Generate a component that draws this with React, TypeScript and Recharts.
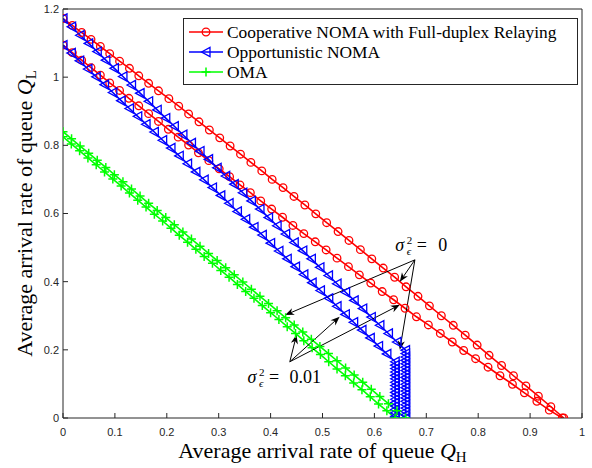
import React from 'react';
import { LineChart, Line, XAxis, YAxis, Legend, Label, ReferenceLine, ReferenceDot } from 'recharts';

const RED = '#ff0000';
const BLUE = '#0000ff';
const GREEN = '#00ff00';
const AXIS = '#262626';
const SERIF = '"Liberation Serif", "Times New Roman", serif';
const SANS = '"Liberation Sans", Arial, sans-serif';

const SERIES_COOP = 'Cooperative NOMA with Full-duplex Relaying';
const SERIES_OPP = 'Opportunistic NOMA';
const SERIES_OMA = 'OMA';
const legendOrder = [SERIES_COOP, SERIES_OPP, SERIES_OMA];

// Cooperative NOMA, sigma^2 = 0 (upper) and 0.01 (lower)
const redHiQH = [0, 0.018, 0.036, 0.054, 0.072, 0.09, 0.109, 0.128, 0.146, 0.165, 0.184, 0.204, 0.223, 0.242, 0.262, 0.282, 0.302, 0.322, 0.342, 0.362, 0.383, 0.403, 0.424, 0.445, 0.466, 0.487, 0.508, 0.53, 0.551, 0.573, 0.595, 0.617, 0.639, 0.661, 0.684, 0.706, 0.729, 0.752, 0.775, 0.798, 0.821, 0.845, 0.868, 0.892, 0.916, 0.94, 0.965];
const redHiQL = [1.172, 1.152, 1.131, 1.111, 1.09, 1.069, 1.047, 1.026, 1.004, 0.982, 0.96, 0.937, 0.915, 0.892, 0.869, 0.845, 0.822, 0.798, 0.774, 0.75, 0.725, 0.7, 0.676, 0.65, 0.625, 0.599, 0.573, 0.547, 0.521, 0.494, 0.467, 0.44, 0.413, 0.385, 0.357, 0.329, 0.3, 0.272, 0.243, 0.214, 0.184, 0.154, 0.124, 0.094, 0.064, 0.033, 0];
const redLoQH = [0, 0.018, 0.036, 0.054, 0.072, 0.09, 0.109, 0.127, 0.146, 0.165, 0.184, 0.203, 0.222, 0.242, 0.261, 0.281, 0.301, 0.321, 0.341, 0.361, 0.381, 0.402, 0.423, 0.443, 0.464, 0.486, 0.507, 0.528, 0.55, 0.571, 0.593, 0.615, 0.637, 0.659, 0.681, 0.704, 0.727, 0.75, 0.772, 0.795, 0.819, 0.842, 0.866, 0.889, 0.913, 0.937, 0.962];
const redLoQL = [1.094, 1.072, 1.05, 1.028, 1.006, 0.983, 0.961, 0.938, 0.916, 0.893, 0.87, 0.847, 0.824, 0.801, 0.778, 0.755, 0.731, 0.708, 0.684, 0.661, 0.637, 0.613, 0.589, 0.565, 0.541, 0.517, 0.493, 0.469, 0.444, 0.42, 0.396, 0.371, 0.347, 0.322, 0.297, 0.273, 0.248, 0.223, 0.198, 0.174, 0.149, 0.124, 0.099, 0.074, 0.049, 0.023, 0];

// Opportunistic NOMA
const blueHiQH = [0, 0.0165, 0.033, 0.0495, 0.066, 0.0825, 0.099, 0.1155, 0.132, 0.1485, 0.165, 0.1815, 0.198, 0.2145, 0.231, 0.2475, 0.264, 0.2805, 0.297, 0.3135, 0.33, 0.3465, 0.363, 0.3795, 0.396, 0.4125, 0.429, 0.4455, 0.462, 0.4785, 0.495, 0.5115, 0.528, 0.5445, 0.561, 0.5775, 0.594, 0.6105, 0.627, 0.6435, 0.66,
  0.66, 0.66, 0.66, 0.66, 0.66, 0.66, 0.66, 0.66, 0.66, 0.66, 0.66, 0.66, 0.66, 0.66, 0.66, 0.66, 0.66, 0.66, 0.66, 0.66];
const blueHiQL = [1.172, 1.148, 1.123, 1.099, 1.075, 1.05, 1.026, 1.002, 0.977, 0.953, 0.929, 0.904, 0.88, 0.856, 0.831, 0.807, 0.783, 0.759, 0.734, 0.71, 0.686, 0.661, 0.637, 0.613, 0.588, 0.564, 0.54, 0.515, 0.491, 0.467, 0.442, 0.418, 0.394, 0.369, 0.345, 0.321, 0.296, 0.272, 0.248, 0.223, 0.199,
  0.189, 0.179, 0.169, 0.159, 0.149, 0.139, 0.129, 0.119, 0.109, 0.099, 0.089, 0.079, 0.069, 0.059, 0.049, 0.039, 0.029, 0.019, 0.009, 0];
const blueLoQH = [0, 0.016, 0.032, 0.048, 0.064, 0.08, 0.096, 0.112, 0.128, 0.144, 0.16, 0.176, 0.192, 0.208, 0.224, 0.24, 0.256, 0.272, 0.288, 0.304, 0.32, 0.336, 0.352, 0.368, 0.384, 0.4, 0.416, 0.432, 0.448, 0.464, 0.48, 0.496, 0.512, 0.528, 0.544, 0.56, 0.576, 0.592, 0.608, 0.624, 0.64,
  0.64, 0.64, 0.64, 0.64, 0.64, 0.64, 0.64, 0.64, 0.64, 0.64, 0.64, 0.64, 0.64, 0.64, 0.64, 0.64, 0.64];
const blueLoQL = [1.094, 1.071, 1.048, 1.024, 1.001, 0.978, 0.955, 0.931, 0.908, 0.885, 0.862, 0.839, 0.815, 0.792, 0.769, 0.746, 0.722, 0.699, 0.676, 0.653, 0.63, 0.606, 0.583, 0.56, 0.537, 0.513, 0.49, 0.467, 0.444, 0.421, 0.397, 0.374, 0.351, 0.328, 0.304, 0.281, 0.258, 0.235, 0.211, 0.188, 0.165,
  0.155, 0.145, 0.135, 0.125, 0.115, 0.105, 0.095, 0.085, 0.075, 0.065, 0.055, 0.045, 0.035, 0.025, 0.015, 0.005, 0];

// OMA
const greenHiQH = [0, 0.0165, 0.033, 0.0495, 0.066, 0.0825, 0.099, 0.1155, 0.132, 0.1485, 0.165, 0.1815, 0.198, 0.2145, 0.231, 0.2475, 0.264, 0.2805, 0.297, 0.3135, 0.33, 0.3465, 0.363, 0.3795, 0.396, 0.4125, 0.429, 0.4455, 0.462, 0.4785, 0.495, 0.5115, 0.528, 0.5445, 0.561, 0.5775, 0.594, 0.6105, 0.627, 0.6435, 0.66];
const greenHiQL = [0.84, 0.819, 0.798, 0.777, 0.756, 0.735, 0.714, 0.693, 0.672, 0.651, 0.63, 0.609, 0.588, 0.567, 0.546, 0.525, 0.504, 0.483, 0.462, 0.441, 0.42, 0.399, 0.378, 0.357, 0.336, 0.315, 0.294, 0.273, 0.252, 0.231, 0.21, 0.189, 0.168, 0.147, 0.126, 0.105, 0.084, 0.063, 0.042, 0.021, 0];
const greenLoQH = [0, 0.016, 0.032, 0.048, 0.064, 0.08, 0.096, 0.112, 0.128, 0.144, 0.16, 0.176, 0.192, 0.208, 0.224, 0.24, 0.256, 0.272, 0.288, 0.304, 0.32, 0.336, 0.352, 0.368, 0.384, 0.4, 0.416, 0.432, 0.448, 0.464, 0.48, 0.496, 0.512, 0.528, 0.544, 0.56, 0.576, 0.592, 0.608, 0.624, 0.64];
const greenLoQL = [0.825, 0.804, 0.784, 0.763, 0.743, 0.722, 0.701, 0.681, 0.66, 0.639, 0.619, 0.598, 0.578, 0.557, 0.536, 0.516, 0.495, 0.474, 0.454, 0.433, 0.413, 0.392, 0.371, 0.351, 0.33, 0.309, 0.289, 0.268, 0.248, 0.227, 0.206, 0.186, 0.165, 0.144, 0.124, 0.103, 0.083, 0.062, 0.041, 0.021, 0];

const xTicks = [0, 0.1, 0.2, 0.3, 0.4, 0.5, 0.6, 0.7, 0.8, 0.9, 1];
const yTicks = [0, 0.2, 0.4, 0.6, 0.8, 1, 1.2];

// annotation arrows: [from, to] in data units
const zeroLabelAt = { x: 0.64, y: 0.49 };
const zeroArrows = [
  [{ x: 0.678, y: 0.464 }, { x: 0.428, y: 0.302 }],
  [{ x: 0.678, y: 0.464 }, { x: 0.649, y: 0.4 }],
  [{ x: 0.678, y: 0.464 }, { x: 0.649, y: 0.2 }],
];
const pointLabelAt = { x: 0.3555, y: 0.103 };
const pointArrows = [
  [{ x: 0.437, y: 0.165 }, { x: 0.45, y: 0.244 }],
  [{ x: 0.437, y: 0.165 }, { x: 0.533, y: 0.297 }],
  [{ x: 0.437, y: 0.165 }, { x: 0.649, y: 0.332 }],
];

const toPts = (qh: number[], ql: number[]) => qh.map((x, i) => ({ x, y: ql[i] }));

const Circle = ({ cx, cy }: any) => (
  <circle cx={cx} cy={cy} r={3.8} fill="none" stroke={RED} strokeWidth={1.3} />
);
const Tri = ({ cx, cy }: any) => (
  <polygon points={`${cx - 4.5},${cy} ${cx + 4},${cy - 4.6} ${cx + 4},${cy + 4.6}`} fill="none" stroke={BLUE} strokeWidth={1.3} />
);
const Plus = ({ cx, cy }: any) => (
  <path d={`M${cx - 4.5},${cy}H${cx + 4.5}M${cx},${cy - 4.5}V${cy + 4.5}`} stroke={GREEN} strokeWidth={1.5} fill="none" />
);

const seriesStyle: Record<string, { color: string; M: any }> = {
  [SERIES_COOP]: { color: RED, M: Circle },
  [SERIES_OPP]: { color: BLUE, M: Tri },
  [SERIES_OMA]: { color: GREEN, M: Plus },
};

const Arrow = (props: any) => {
  const { x1, y1, x2, y2 } = props;
  const dx = x2 - x1;
  const dy = y2 - y1;
  const len = Math.hypot(dx, dy) || 1;
  const ux = dx / len;
  const uy = dy / len;
  const L = 9;
  const W = 3.6;
  const bx = x2 - ux * L;
  const by = y2 - uy * L;
  const nx = x2 - ux * L * 0.7;
  const ny = y2 - uy * L * 0.7;
  return (
    <g>
      <line x1={x1} y1={y1} x2={nx} y2={ny} stroke="#000" strokeWidth={1} />
      <path d={`M${x2},${y2}L${bx - uy * W},${by + ux * W}L${nx},${ny}L${bx + uy * W},${by - ux * W}Z`} fill="#000" />
    </g>
  );
};

// sigma_eps^2 = value, as one text element
const SigmaText = ({ cx, cy, rhs, rhsDx }: any) => (
  <text x={cx} y={cy} fontFamily={SERIF} fontSize={18} fill="#000">
    <tspan fontStyle="italic">σ</tspan>
    <tspan x={cx + 11.5} dy={-7} fontSize={11}>2</tspan>
    <tspan x={cx + 11.5} dy={11.5} fontSize={11} fontStyle="italic">ϵ</tspan>
    <tspan x={cx + 21.5} dy={-4.5}>=</tspan>
    <tspan x={cx + rhsDx}>{rhs}</tspan>
  </text>
);

const XTitle = (props: any) => {
  const { x, y, width } = props.viewBox;
  return (
    <text x={x + width / 2} y={y + 40} textAnchor="middle" fontFamily={SERIF} fontSize={22} fill="#000">
      {'Average arrival rate of queue '}
      <tspan fontStyle="italic">Q</tspan>
      <tspan fontSize={15} dy={4}>H</tspan>
    </text>
  );
};

const YTitle = (props: any) => {
  const { x, y, height } = props.viewBox;
  const cx = x + 32;
  const cy = y + height / 2;
  return (
    <text x={cx} y={cy} transform={`rotate(-90 ${cx} ${cy})`} textAnchor="middle" fontFamily={SERIF} fontSize={22} fill="#000">
      {'Average arrival rate of queue '}
      <tspan fontStyle="italic">Q</tspan>
      <tspan fontSize={15} dy={4}>L</tspan>
    </text>
  );
};

const LegendBox = () => (
  <div style={{ boxSizing: 'border-box', width: 395, height: 67, border: `1px solid ${AXIS}`, background: '#fff', paddingTop: 3 }}>
    {legendOrder.map((name) => {
      const { color, M } = seriesStyle[name];
      return (
        <div key={name} style={{ display: 'flex', alignItems: 'center', height: 20 }}>
          <svg width={43} height={20} style={{ display: 'block' }}>
            <line x1={5} y1={10} x2={39} y2={10} stroke={color} strokeWidth={1.5} />
            <M cx={22} cy={10} />
          </svg>
          <span style={{ fontFamily: SERIF, fontSize: 17.4, lineHeight: '20px', color: '#000', whiteSpace: 'nowrap' }}>{name}</span>
        </div>
      );
    })}
  </div>
);

const tickStyle = { fontFamily: SANS, fontSize: 11, fill: AXIS };

export default function App() {
  return (
    <div style={{ position: 'absolute', left: 0, top: 0, width: 592, height: 468, background: '#fff' }}>
      <LineChart width={592} height={468} margin={{ top: 8, right: 9, bottom: 0, left: 0 }}>
        <XAxis xAxisId={0} dataKey="x" type="number" domain={[0, 1]} ticks={xTicks} interval={0} allowDataOverflow
          height={50} tickSize={-5} tickMargin={15} stroke={AXIS} tick={tickStyle}
          label={<Label content={XTitle} />} />
        <XAxis xAxisId="top" orientation="top" type="number" domain={[0, 1]} ticks={xTicks} interval={0} allowDataOverflow
          height={1} tickSize={-5} stroke={AXIS} tick={false} />
        <YAxis yAxisId={0} type="number" domain={[0, 1.2]} ticks={yTicks} interval={0} allowDataOverflow
          width={63} tickSize={-5} tickMargin={9} stroke={AXIS} tick={tickStyle}
          label={<Label content={YTitle} />} />
        <YAxis yAxisId="right" orientation="right" type="number" domain={[0, 1.2]} ticks={yTicks} interval={0} allowDataOverflow
          width={1} tickSize={-5} stroke={AXIS} tick={false} />

        <Line data={toPts(redHiQH, redHiQL)} dataKey="y" name={SERIES_COOP} stroke={RED} strokeWidth={1.6}
          isAnimationActive={false} dot={(p: any) => <Circle key={`rh${p.index}`} cx={p.cx} cy={p.cy} />} activeDot={false} />
        <Line data={toPts(redLoQH, redLoQL)} dataKey="y" name={SERIES_COOP} stroke={RED} strokeWidth={1.6}
          isAnimationActive={false} dot={(p: any) => <Circle key={`rl${p.index}`} cx={p.cx} cy={p.cy} />} activeDot={false} />
        <Line data={toPts(blueHiQH, blueHiQL)} dataKey="y" name={SERIES_OPP} stroke={BLUE} strokeWidth={1.6}
          isAnimationActive={false} dot={(p: any) => <Tri key={`bh${p.index}`} cx={p.cx} cy={p.cy} />} activeDot={false} />
        <Line data={toPts(blueLoQH, blueLoQL)} dataKey="y" name={SERIES_OPP} stroke={BLUE} strokeWidth={1.6}
          isAnimationActive={false} dot={(p: any) => <Tri key={`bl${p.index}`} cx={p.cx} cy={p.cy} />} activeDot={false} />
        <Line data={toPts(greenHiQH, greenHiQL)} dataKey="y" name={SERIES_OMA} stroke={GREEN} strokeWidth={1.6}
          isAnimationActive={false} dot={(p: any) => <Plus key={`gh${p.index}`} cx={p.cx} cy={p.cy} />} activeDot={false} />
        <Line data={toPts(greenLoQH, greenLoQL)} dataKey="y" name={SERIES_OMA} stroke={GREEN} strokeWidth={1.6}
          isAnimationActive={false} dot={(p: any) => <Plus key={`gl${p.index}`} cx={p.cx} cy={p.cy} />} activeDot={false} />

        {[...zeroArrows, ...pointArrows].map((seg, i) => (
          <ReferenceLine key={`arr${i}`} segment={seg} shape={Arrow} ifOverflow="visible" />
        ))}
        <ReferenceDot x={zeroLabelAt.x} y={zeroLabelAt.y} r={0} ifOverflow="visible"
          shape={(p: any) => <SigmaText cx={p.cx} cy={p.cy} rhs="0" rhsDx={43} />} />
        <ReferenceDot x={pointLabelAt.x} y={pointLabelAt.y} r={0} ifOverflow="visible"
          shape={(p: any) => <SigmaText cx={p.cx} cy={p.cy} rhs="0.01" rhsDx={42} />} />

        <Legend layout="vertical" align="center" verticalAlign="middle" content={LegendBox}
          wrapperStyle={{ left: 183, top: 18, width: 395 }} />
      </LineChart>
    </div>
  );
}
